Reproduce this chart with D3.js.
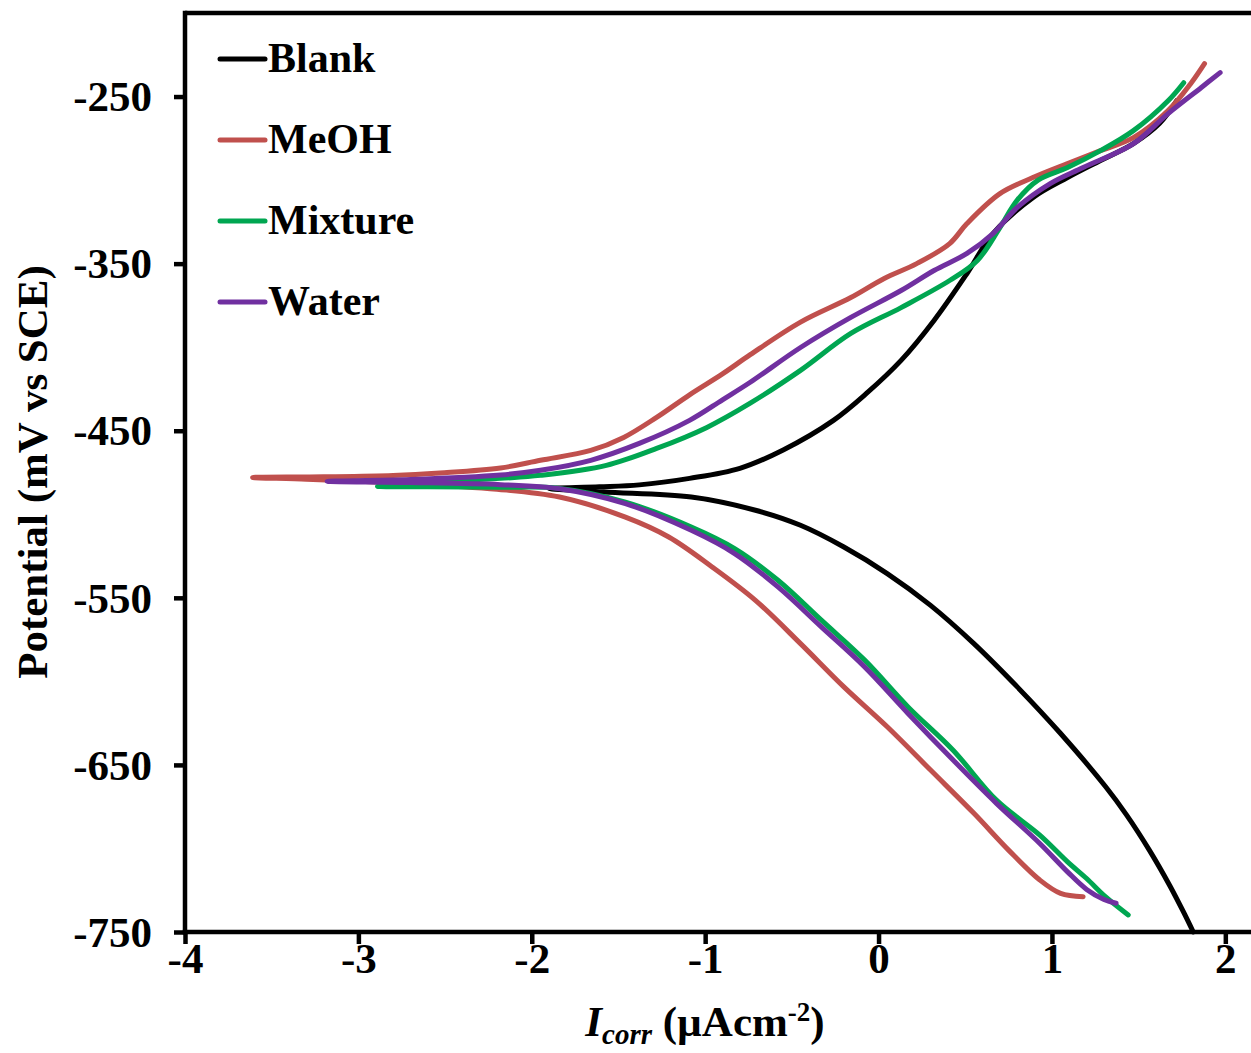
<!DOCTYPE html>
<html>
<head>
<meta charset="utf-8">
<script src="https://cdn.jsdelivr.net/npm/d3@7"></script>
<style>
  body { margin: 0; background: #fff; }
  svg text { font-family: "Liberation Serif", "Times New Roman", serif; font-weight: bold; fill: #000; }
</style>
</head>
<body>
<svg id="chart" width="1251" height="1053"></svg>
<script>
// Tafel polarization curves: log current density vs potential.
// Each curve runs from the cathodic end, through the corrosion potential, to the anodic end.
const seriesNames = ["Blank", "MeOH", "Mixture", "Water"];
const seriesColors = ["#000000", "#C0504D", "#00A651", "#7030A0"];

const blankCurve = [
  [1.815, -750], [1.76, -738.3], [1.68, -722.3], [1.56, -700.7], [1.43, -679.9], [1.31, -663.1],
  [1.05, -631.2], [0.80, -603.3], [0.55, -577.4], [0.30, -554.5], [0.05, -535.5], [-0.20, -519.6],
  [-0.45, -506.6], [-0.71, -497.6], [-1.08, -489.7], [-1.585, -486.7], [-1.90, -484.6],
  [-1.61, -483.6], [-1.38, -482.4], [-1.09, -478.5], [-0.80, -472.5], [-0.55, -461.5], [-0.26, -443.8],
  [-0.07, -427.7], [0.13, -407.9], [0.32, -384.0], [0.51, -355.9], [0.66, -332.0], [0.89, -310.5],
  [1.09, -298.5], [1.28, -288.3], [1.47, -278.2], [1.62, -266.2], [1.72, -252.5]
];

const meohCurve = [
  [1.18, -728.9], [1.05, -726.9], [0.93, -718.9], [0.75, -701.0], [0.55, -679.0], [0.30, -653.1],
  [0.05, -627.2], [-0.20, -603.3], [-0.45, -577.4], [-0.71, -551.5], [-0.96, -531.5], [-1.21, -513.6],
  [-1.46, -501.7], [-1.84, -489.7], [-2.20, -485.0], [-2.80, -481.2], [-3.30, -479.0], [-3.61, -478.0],
  [-3.20, -477.6], [-2.80, -476.8], [-2.53, -475.3], [-2.18, -472.3], [-1.95, -467.7], [-1.66, -461.8],
  [-1.47, -454.0], [-1.28, -442.0], [-1.09, -428.5], [-0.90, -416.0], [-0.74, -404.5], [-0.45, -385.0],
  [-0.16, -370.3], [0.03, -359.0], [0.22, -350.0], [0.41, -338.0], [0.51, -326.0], [0.70, -308.1],
  [0.89, -298.5], [1.09, -290.1], [1.28, -282.4], [1.47, -274.6], [1.67, -258.4], [1.80, -242.3],
  [1.88, -230.3]
];

const mixtureCurve = [
  [1.44, -739.8], [1.31, -729.0], [1.20, -718.0], [1.09, -708.0], [0.93, -692.0], [0.68, -671.1],
  [0.43, -641.2], [0.17, -615.3], [-0.08, -587.3], [-0.33, -563.4], [-0.58, -539.5], [-0.83, -520.5],
  [-1.08, -507.6], [-1.46, -492.7], [-1.84, -484.5], [-2.18, -483.8], [-2.60, -483.5], [-2.89, -483.3],
  [-2.60, -481.0], [-2.18, -478.5], [-1.95, -476.7], [-1.57, -470.7], [-1.28, -460.6], [-0.99, -448.0],
  [-0.74, -433.5], [-0.45, -413.9], [-0.16, -391.8], [0.13, -376.3], [0.41, -360.1], [0.57, -348.1],
  [0.70, -328.4], [0.80, -312.0], [0.92, -300.0], [1.09, -292.5], [1.28, -282.4], [1.47, -270.4],
  [1.67, -252.5], [1.76, -241.7]
];

const waterCurve = [
  [1.37, -732.8], [1.30, -730.5], [1.20, -724.5], [1.09, -714.0], [0.93, -697.0], [0.68, -673.0],
  [0.43, -647.1], [0.17, -619.2], [-0.08, -591.4], [-0.33, -567.4], [-0.58, -543.5], [-0.83, -523.5],
  [-1.08, -509.6], [-1.46, -493.6], [-1.84, -484.7], [-2.18, -482.3], [-2.70, -481.0], [-3.18, -480.3],
  [-2.70, -479.2], [-2.18, -476.5], [-1.95, -473.7], [-1.66, -467.7], [-1.38, -457.6], [-1.09, -443.8],
  [-0.90, -431.5], [-0.74, -421.0], [-0.45, -400.2], [-0.16, -382.2], [0.13, -366.1], [0.32, -354.1],
  [0.51, -343.9], [0.66, -332.0], [0.80, -316.4], [0.99, -302.1], [1.18, -292.5], [1.47, -278.2],
  [1.67, -260.2], [1.86, -244.7], [1.97, -235.7]
];

const xTicks = [-4, -3, -2, -1, 0, 1, 2];
const yTicks = [-250, -350, -450, -550, -650, -750];

const curves = [blankCurve, meohCurve, mixtureCurve, waterCurve];

// ---- layout ----
const svg = d3.select("#chart");
const plot = { left: 185, top: 13, bottom: 932, right: 1260 };

const x = d3.scaleLinear().domain([-4, 2.2]).range([plot.left, plot.right]);
const y = d3.scaleLinear().domain([-750, -200]).range([plot.bottom, plot.top]);

const tickFont = 43;
const legendFont = 42;
const titleFont = 43;

// ---- curves ----
const line = d3.line()
  .x(d => x(d[0]))
  .y(d => y(d[1]))
  .curve(d3.curveCatmullRom.alpha(0.5));

svg.append("g")
  .selectAll("path")
  .data(curves)
  .join("path")
  .attr("d", line)
  .attr("fill", "none")
  .attr("stroke", (d, i) => seriesColors[i])
  .attr("stroke-width", 5)
  .attr("stroke-linecap", "round")
  .attr("stroke-linejoin", "round");

// ---- frame (top edge) ----
svg.append("line")
  .attr("x1", plot.left).attr("x2", plot.right)
  .attr("y1", plot.top).attr("y2", plot.top)
  .attr("stroke", "#000").attr("stroke-width", 4.5);

// ---- axes ----
const plainNumber = d => String(d);

const yAxis = d3.axisLeft(y)
  .tickValues(yTicks)
  .tickSize(11)
  .tickPadding(22)
  .tickFormat(plainNumber);

const gy = svg.append("g")
  .attr("transform", `translate(${plot.left},0)`)
  .call(yAxis);

const xAxis = d3.axisBottom(x)
  .tickValues(xTicks)
  .tickSize(12)
  .tickPadding(0)
  .tickFormat(plainNumber);

const gx = svg.append("g")
  .attr("transform", `translate(0,${plot.bottom})`)
  .call(xAxis);

[gx, gy].forEach(g => {
  g.select(".domain").remove();
  g.selectAll(".tick line").attr("stroke", "#000").attr("stroke-width", 4.5);
  g.selectAll(".tick text")
    .style("font-size", tickFont + "px")
    .style("font-family", "'Liberation Serif', 'Times New Roman', serif")
    .style("font-weight", "bold")
    .attr("fill", "#000");
});
gy.selectAll(".tick text").attr("dy", "0.33em");
gx.selectAll(".tick text").attr("dy", "0.71em").attr("y", 10);

// axis lines drawn over the tick ends
svg.append("line")
  .attr("x1", plot.left).attr("x2", plot.left)
  .attr("y1", plot.top - 2.25).attr("y2", plot.bottom + 2.25)
  .attr("stroke", "#000").attr("stroke-width", 4.5);
svg.append("line")
  .attr("x1", plot.left - 2.25).attr("x2", plot.right)
  .attr("y1", plot.bottom).attr("y2", plot.bottom)
  .attr("stroke", "#000").attr("stroke-width", 4.5);

// ---- axis titles ----
svg.append("text")
  .attr("transform", `translate(47,472) rotate(-90)`)
  .attr("text-anchor", "middle")
  .style("font-size", titleFont + "px")
  .text("Potential (mV vs SCE)");

const xTitle = svg.append("text")
  .attr("x", 705)
  .attr("y", 1036)
  .attr("text-anchor", "middle")
  .style("font-size", titleFont + "px");
xTitle.append("tspan").style("font-style", "italic").text("I");
xTitle.append("tspan").style("font-style", "italic").style("font-size", "29px").attr("dy", 8).text("corr");
xTitle.append("tspan").attr("dy", -8).text(" (\u00B5Acm");
xTitle.append("tspan").style("font-size", "27px").attr("dy", -15).text("-2");
xTitle.append("tspan").attr("dy", 15).text(")");

// ---- legend ----
const legend = svg.append("g")
  .selectAll("g")
  .data(seriesNames)
  .join("g")
  .attr("transform", (d, i) => `translate(220,${59 + i * 81})`);

legend.append("line")
  .attr("x1", 0).attr("x2", 45)
  .attr("stroke", (d, i) => seriesColors[i])
  .attr("stroke-width", 5)
  .attr("stroke-linecap", "round");

legend.append("text")
  .attr("x", 48)
  .attr("y", 13)
  .style("font-size", legendFont + "px")
  .text(d => d);
</script>
</body>
</html>
